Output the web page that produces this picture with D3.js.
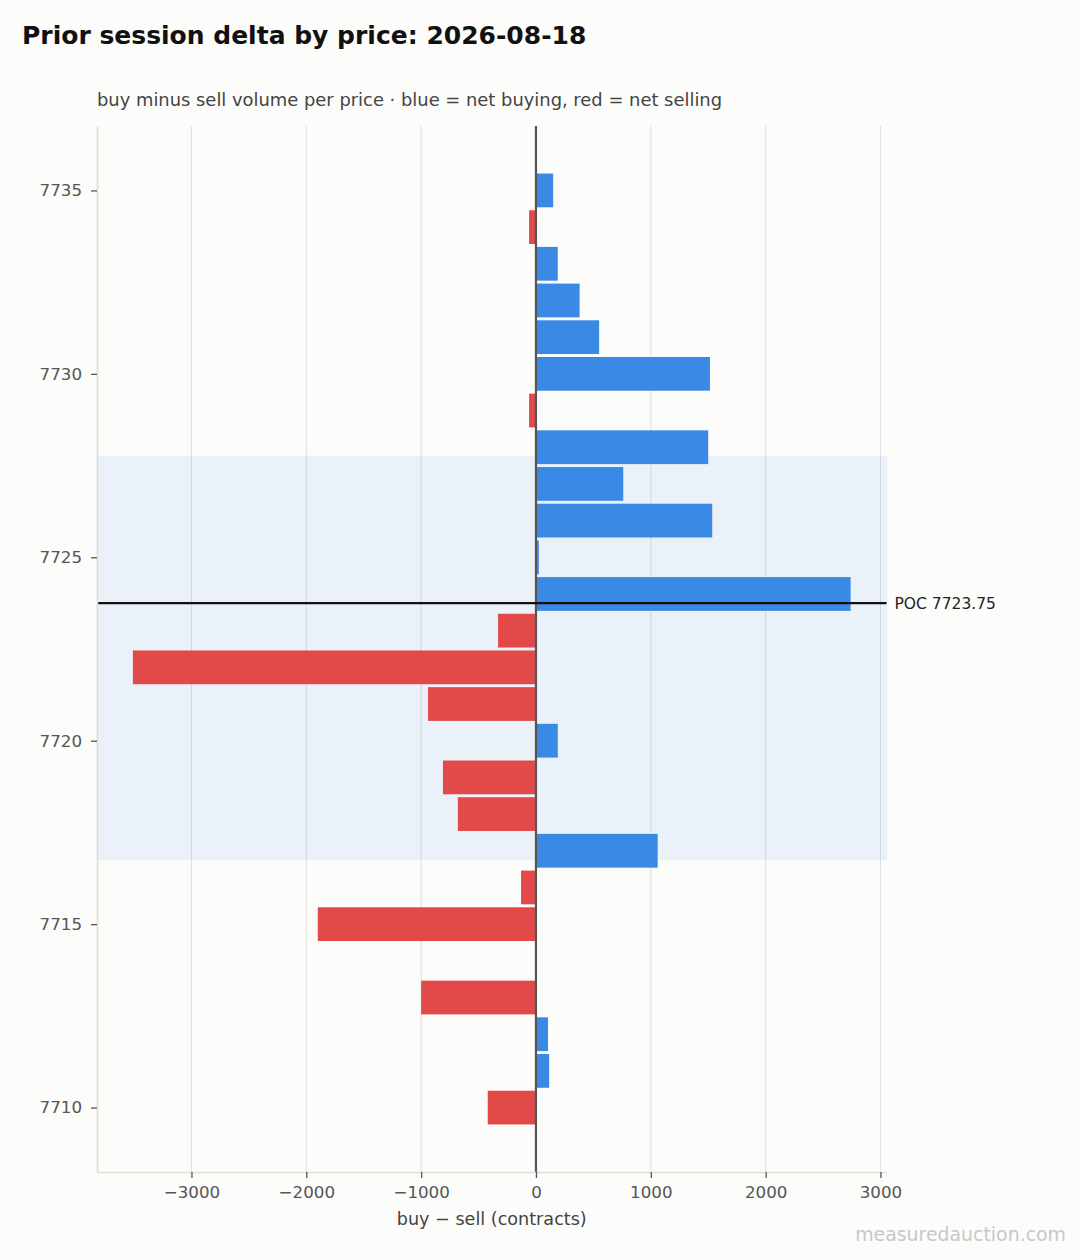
<!DOCTYPE html>
<html>
<head>
<meta charset="utf-8">
<script src="https://cdn.jsdelivr.net/npm/d3@7"></script>
<style>
  body { margin: 0; background: #fcfcfa; }
  text { font-family: "DejaVu Sans", sans-serif; }
</style>
</head>
<body>
<svg id="delta_chart"></svg>
<script>
// price levels (1 pt bins) and net delta per level
var prices = [7735, 7734, 7733, 7732, 7731, 7730, 7729, 7728, 7727, 7726, 7725, 7724, 7723,
              7722, 7721, 7720, 7719, 7718, 7717, 7716, 7715, 7714, 7713, 7712, 7711, 7710]
var deltas = [150, -60, 190, 380, 550, 1515, -60, 1500, 760, 1535, 25, 2740, -330,
              -3510, -940, 190, -810, -680, 1060, -130, -1900, 0, -1000, 105, 115, -420]

var yTicks = [7710, 7715, 7720, 7725, 7730, 7735]
var xTicks = [-3000, -2000, -1000, 0, 1000, 2000, 3000]

var poc = 7723.75
var valueArea = [7716.75, 7727.75]   // VAL, VAH

var dataset = prices.map((p, i) => ({ price: p, delta: deltas[i] }))

var dimensions = {
  width: 1080,
  height: 1260,
  margin: {
    top: 126,
    bottom: 88,
    right: 193.5,
    left: 97
  }
}
dimensions.boundedWidth = dimensions.width - dimensions.margin.left - dimensions.margin.right
dimensions.boundedHeight = dimensions.height - dimensions.margin.top - dimensions.margin.bottom

const buyColor = "#3a89e4"
const sellColor = "#e24a4a"
const barHeight = 0.92

// 5% padding on both axes, like the default plot margins
var xMin = Math.min(0, d3.min(deltas)), xMax = Math.max(0, d3.max(deltas))
var xPad = (xMax - xMin) * 0.05
var yLo = d3.min(prices) - barHeight / 2, yHi = d3.max(prices) + barHeight / 2
var yPad = (yHi - yLo) * 0.05

var xScale = d3.scaleLinear()
  .domain([xMin - xPad, xMax + xPad])
  .range([0, dimensions.boundedWidth])

var yScale = d3.scaleLinear()
  .domain([yLo - yPad, yHi + yPad])
  .range([dimensions.boundedHeight, 0])

var svg = d3.select("#delta_chart")
  .attr("width", dimensions.width)
  .attr("height", dimensions.height)

svg.append("rect")
  .attr("width", dimensions.width)
  .attr("height", dimensions.height)
  .attr("fill", "#fcfcfa")

var bounds = svg.append("g")
  .attr("transform", `translate(${dimensions.margin.left}, ${dimensions.margin.top})`)

// vertical gridlines
bounds.selectAll(".grid")
  .data(xTicks)
  .enter()
  .append("line")
  .attr("class", "grid")
  .attr("x1", d => xScale(d))
  .attr("x2", d => xScale(d))
  .attr("y1", 0)
  .attr("y2", dimensions.boundedHeight)
  .attr("stroke", "#e0e0de")
  .attr("stroke-width", 1.1)

// value area band
bounds.append("rect")
  .attr("x", 0)
  .attr("width", dimensions.boundedWidth)
  .attr("y", yScale(valueArea[1]))
  .attr("height", yScale(valueArea[0]) - yScale(valueArea[1]))
  .attr("fill", "#3b82f6")
  .attr("fill-opacity", 0.09)
  .attr("stroke", "#3b82f6")
  .attr("stroke-opacity", 0.05)

// bars
bounds.selectAll(".bar")
  .data(dataset)
  .enter()
  .append("rect")
  .attr("class", "bar")
  .attr("x", d => xScale(Math.min(0, d.delta)))
  .attr("width", d => Math.abs(xScale(d.delta) - xScale(0)))
  .attr("y", d => yScale(d.price + barHeight / 2))
  .attr("height", d => yScale(d.price - barHeight / 2) - yScale(d.price + barHeight / 2))
  .attr("fill", d => d.delta >= 0 ? buyColor : sellColor)

// zero line
bounds.append("line")
  .attr("x1", xScale(0))
  .attr("x2", xScale(0))
  .attr("y1", 0)
  .attr("y2", dimensions.boundedHeight)
  .attr("stroke", "#555")
  .attr("stroke-width", 2.2)

// POC line + label
bounds.append("line")
  .attr("x1", 0)
  .attr("x2", dimensions.boundedWidth)
  .attr("y1", yScale(poc))
  .attr("y2", yScale(poc))
  .attr("stroke", "#111")
  .attr("stroke-width", 2.4)

bounds.append("text")
  .attr("x", dimensions.boundedWidth + 8)
  .attr("y", yScale(poc))
  .attr("dy", "0.35em")
  .style("font-size", "15.5px")
  .attr("fill", "#222")
  .text("POC " + poc)

// axes
var xAxis = d3.axisBottom(xScale)
  .tickValues(xTicks)
  .tickFormat(d3.format("d"))
  .tickSize(6)
  .tickPadding(8.5)
  .tickSizeOuter(0)

var yAxis = d3.axisLeft(yScale)
  .tickValues(yTicks)
  .tickFormat(d3.format("d"))
  .tickSize(6)
  .tickPadding(9)
  .tickSizeOuter(0)

var gx = bounds.append("g")
  .attr("transform", `translate(0, ${dimensions.boundedHeight})`)
  .call(xAxis)

var gy = bounds.append("g")
  .call(yAxis)

;[gx, gy].forEach(g => {
  g.select(".domain").attr("stroke", "#deded8").attr("stroke-width", 1.6)
  g.selectAll(".tick line").attr("stroke", "#555").attr("stroke-width", 1.3)
  g.selectAll(".tick text")
    .attr("fill", "#555")
    .style("font-size", "16.7px")
    .style("font-family", "DejaVu Sans, sans-serif")
})

// titles
svg.append("text")
  .attr("x", 22)
  .attr("y", 44.3)
  .style("font-size", "25px")
  .style("font-weight", "bold")
  .attr("fill", "#111")
  .text("Prior session delta by price: 2026-08-18")

svg.append("text")
  .attr("x", dimensions.margin.left)
  .attr("y", 105.5)
  .style("font-size", "17.9px")
  .attr("fill", "#444")
  .text("buy minus sell volume per price \u00b7 blue = net buying, red = net selling")

svg.append("text")
  .attr("x", dimensions.margin.left + dimensions.boundedWidth / 2)
  .attr("y", 1225)
  .attr("text-anchor", "middle")
  .style("font-size", "17.6px")
  .attr("fill", "#444")
  .text("buy \u2212 sell (contracts)")

svg.append("text")
  .attr("x", 1066)
  .attr("y", 1240.5)
  .attr("text-anchor", "end")
  .style("font-size", "18.9px")
  .attr("fill", "#c8c8c8")
  .text("measuredauction.com")
</script>
</body>
</html>
